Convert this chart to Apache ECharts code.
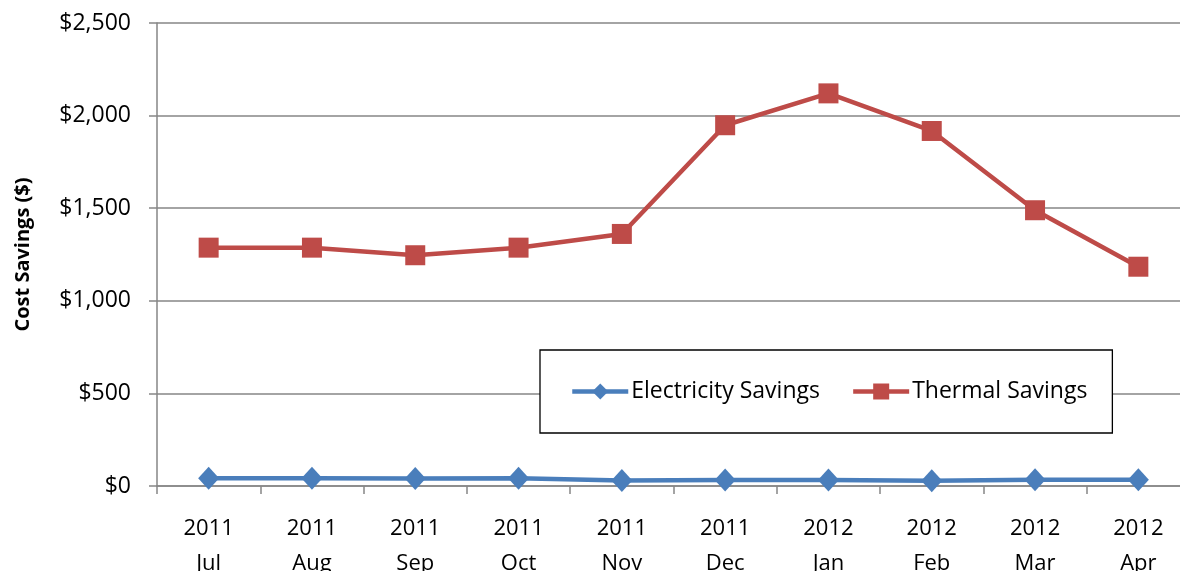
<!DOCTYPE html>
<html>
<head>
<meta charset="utf-8">
<script src="https://cdn.jsdelivr.net/npm/echarts@6/dist/echarts.min.js"></script>
<style>
  html, body { margin: 0; padding: 0; background: #fff; }
  #chart { width: 1180px; height: 571px; }
</style>
</head>
<body>
<div id="chart"></div>
<script>
// Monthly cost savings, July 2011 through April 2012
const months = ['2011\nJul', '2011\nAug', '2011\nSep', '2011\nOct', '2011\nNov',
                '2011\nDec', '2012\nJan', '2012\nFeb', '2012\nMar', '2012\nApr'];
const electricitySavings = [42, 42, 40, 42, 30, 32, 32, 28, 34, 34];
const thermalSavings = [1287, 1287, 1246, 1287, 1361, 1948, 2120, 1917, 1489, 1184];
const yTicks = { min: 0, max: 2500, interval: 500 };

const FONT = 'Open Sans';
const chart = echarts.init(document.getElementById('chart'));

chart.setOption({
  animation: false,
  backgroundColor: '#ffffff',
  grid: {
    left: 157, right: -10, top: 23, bottom: 85,
    containLabel: false,
    outerBoundsMode: 'none'
  },
  legend: {
    left: 540, top: 350,
    padding: [30, 25, 30, 30],
    itemGap: 31,
    itemWidth: 56, itemHeight: 20,
    borderColor: '#000000', borderWidth: 1.3,
    backgroundColor: '#ffffff',
    lineStyle: { width: 4.5 },
    textStyle: { fontFamily: FONT, fontSize: 23, color: '#000000', padding: [0, 0, 0, -2] },
    data: ['Electricity Savings', 'Thermal Savings']
  },
  xAxis: {
    type: 'category',
    data: months,
    boundaryGap: true,
    axisLine: { lineStyle: { color: '#868686', width: 1.5 } },
    axisTick: { show: true, length: 8, alignWithLabel: false, lineStyle: { color: '#868686', width: 1.5 } },
    axisLabel: { fontFamily: FONT, fontSize: 22, color: '#000000', lineHeight: 35, margin: 25, interval: 0 },
    splitLine: { show: false }
  },
  yAxis: {
    type: 'value',
    min: yTicks.min, max: yTicks.max, interval: yTicks.interval,
    name: 'Cost Savings ($)',
    nameLocation: 'middle',
    nameGap: 124,
    nameRotate: 90,
    nameTextStyle: { fontFamily: FONT, fontSize: 20, fontWeight: 'bold', color: '#000000' },
    axisLine: { show: true, lineStyle: { color: '#868686', width: 1.5 } },
    axisTick: { show: true, length: 8, inside: false, lineStyle: { color: '#868686', width: 1.5 } },
    axisLabel: {
      fontFamily: FONT, fontSize: 23, color: '#000000', margin: 26,
      formatter: v => '$' + v.toLocaleString('en-US')
    },
    splitLine: { show: true, lineStyle: { color: '#868686', width: 1.5 } }
  },
  series: [
    {
      name: 'Electricity Savings',
      type: 'line',
      data: electricitySavings,
      symbol: 'diamond',
      symbolSize: [21, 23],
      itemStyle: { color: '#4A7EBB' },
      lineStyle: { color: '#4A7EBB', width: 4.5 },
      z: 3
    },
    {
      name: 'Thermal Savings',
      type: 'line',
      data: thermalSavings,
      symbol: 'rect',
      symbolSize: 20,
      itemStyle: { color: '#BE4B48' },
      lineStyle: { color: '#BE4B48', width: 4.5 },
      z: 3
    }
  ]
});
</script>
</body>
</html>
